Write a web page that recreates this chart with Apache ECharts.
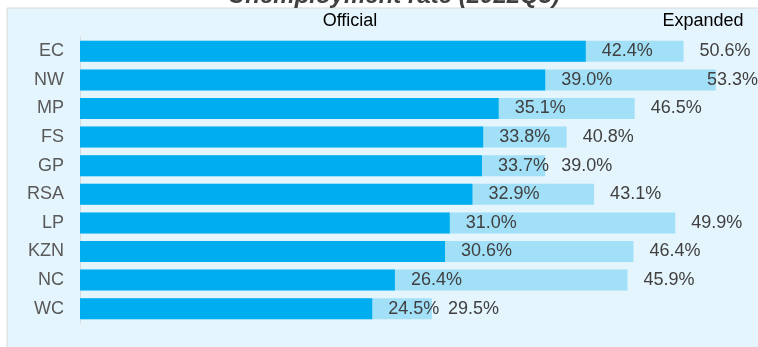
<!DOCTYPE html>
<html>
<head>
<meta charset="utf-8">
<script src="https://cdn.jsdelivr.net/npm/echarts@6/dist/echarts.min.js"></script>
<style>
  html, body { margin: 0; padding: 0; background: #ffffff; }
  #chart { width: 758px; height: 347px; }
</style>
</head>
<body>
<div id="chart"></div>
<script>
// Provinces and national total, top to bottom
const provinces = ['EC', 'NW', 'MP', 'FS', 'GP', 'RSA', 'LP', 'KZN', 'NC', 'WC'];
// Official unemployment rate, %
const officialRate = [42.4, 39.0, 35.1, 33.8, 33.7, 32.9, 31.0, 30.6, 26.4, 24.5];
// Expanded unemployment rate, %
const expandedRate = [50.6, 53.3, 46.5, 40.8, 39.0, 43.1, 49.9, 46.4, 45.9, 29.5];

const FONT = '"Liberation Sans", Arial, sans-serif';

const chart = echarts.init(document.getElementById('chart'), null, { renderer: 'canvas' });

const pct = p => p.value.toFixed(1) + '%';

// keep value labels inside the canvas on the right
const keepInside = params => {
  const r = params.labelRect;
  const limit = chart.getWidth();
  const over = r.x + r.width - limit;
  return over > 0 ? { dx: -over } : {};
};

chart.setOption({
  backgroundColor: '#ffffff',
  animation: false,
  title: {
    text: 'Unemployment rate (2022Q3)',
    left: 228,
    top: -16,
    padding: 0,
    textStyle: {
      fontFamily: FONT,
      fontSize: 24,
      fontWeight: 'bold',
      fontStyle: 'italic',
      color: '#404040'
    },
    z: 0
  },
  graphic: [
    {
      type: 'rect',
      z: -10,
      silent: true,
      shape: { x: 7, y: 8, width: 800, height: 400 },
      style: { fill: '#e5f5fd', stroke: '#d9d9d9', lineWidth: 1 }
    },
    {
      type: 'text',
      x: 350, y: 21,
      style: {
        text: 'Official', fontFamily: FONT, fontSize: 18, fill: '#000000',
        textAlign: 'center', textVerticalAlign: 'middle'
      }
    },
    {
      type: 'text',
      x: 703, y: 21,
      style: {
        text: 'Expanded', fontFamily: FONT, fontSize: 18, fill: '#000000',
        textAlign: 'center', textVerticalAlign: 'middle'
      }
    }
  ],
  grid: { left: 80, right: 10, top: 37, bottom: 24, containLabel: false },
  xAxis: {
    type: 'value',
    min: 0,
    max: 56,
    show: false
  },
  yAxis: {
    type: 'category',
    data: provinces,
    inverse: true,
    axisLine: { show: true, lineStyle: { color: '#d9d9d9', width: 1 } },
    axisTick: { show: false },
    axisLabel: {
      margin: 16,
      fontFamily: FONT,
      fontSize: 18,
      color: '#595959'
    }
  },
  series: [
    {
      name: 'Expanded',
      type: 'bar',
      data: expandedRate,
      barWidth: 21,
      barGap: '-100%',
      itemStyle: { color: '#a2e0f8' },
      z: 2,
      label: {
        show: true,
        position: 'right',
        distance: 16,
        formatter: pct,
        fontFamily: FONT,
        fontSize: 18,
        color: '#404040'
      },
      labelLayout: keepInside
    },
    {
      name: 'Official',
      type: 'bar',
      data: officialRate,
      barWidth: 21,
      barGap: '-100%',
      itemStyle: { color: '#00aeef' },
      z: 3,
      label: {
        show: true,
        position: 'right',
        distance: 16,
        formatter: pct,
        fontFamily: FONT,
        fontSize: 18,
        color: '#404040'
      }
    }
  ]
});
</script>
</body>
</html>
